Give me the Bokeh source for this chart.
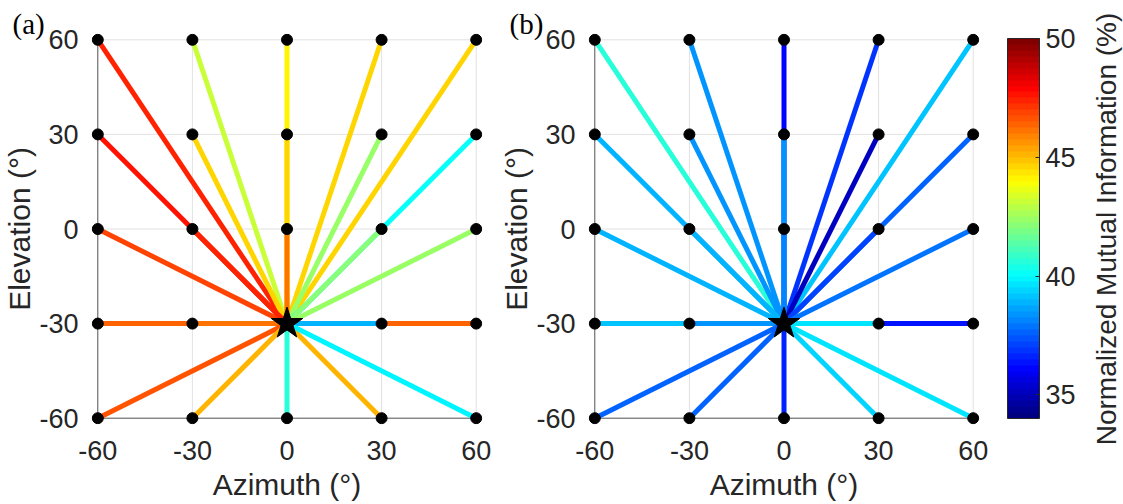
import numpy as np
from bokeh.plotting import figure
from bokeh.layouts import row
from bokeh.models import (Range1d, FixedTicker, ColumnDataSource, LinearColorMapper,
                          ColorBar, Title, CustomJSTickFormatter)
from bokeh.transform import linear_cmap
from bokeh.embed import file_html
from bokeh.resources import INLINE

# ---------------- data ----------------
AZ_TICKS = [-60, -30, 0, 30, 60]
EL_TICKS = [-60, -30, 0, 30, 60]
CB_TICKS = [35, 40, 45, 50]
CENTER_AZ = 0
CENTER_EL = -30
NMI_LOW = 34
NMI_HIGH = 50

# target points (draw order: far first, near last)
TARGET_AZ = [-60, -30, 0, 30, 60,
             -60, -30, 0, 30, 60,
             -60, -30, 0, 30, 60,
             -60, 60, -30, 30,
             -60, -30, 0, 30, 60]
TARGET_EL = [60, 60, 60, 60, 60,
             30, 30, 30, 30, 30,
             0, 0, 0, 0, 0,
             -30, -30, -30, -30,
             -60, -60, -60, -60, -60]

# Normalized mutual information (%) for each target point
NMI_A = [47.4, 43.0, 44.0, 44.6, 44.6,
         47.5, 44.6, 44.6, 42.3, 40.0,
         46.8, 47.4, 46.0, 42.0, 42.3,
         46.4, 46.4, 46.0, 38.9,
         46.6, 45.1, 40.5, 45.2, 39.9]
NMI_B = [40.6, 38.35, 36.2, 36.9, 39.0,
         38.75, 38.35, 38.35, 35.1, 37.6,
         38.75, 38.8, 38.2, 37.1, 37.9,
         39.0, 36.3, 38.35, 39.6,
         37.6, 37.7, 36.6, 39.45, 39.5]

# ---------------- colormap (jet, 64 levels) ----------------
def jet(n):
    cols = []
    for i in range(n):
        t = i / (n - 1)
        r = min(max(1.5 - abs(4 * t - 3), 0), 1)
        g = min(max(1.5 - abs(4 * t - 2), 0), 1)
        b = min(max(1.5 - abs(4 * t - 1), 0), 1)
        cols.append("#%02x%02x%02x" % (int(round(r * 255)), int(round(g * 255)), int(round(b * 255))))
    return cols

JET = jet(64)
mapper = LinearColorMapper(palette=JET, low=NMI_LOW, high=NMI_HIGH)

TXT = "#262626"
SANS = "Liberation Sans"
PAD = 2
FRAME = 391


def panel(values, letter, border_left, border_right):
    p = figure(frame_width=FRAME, frame_height=FRAME,
               x_range=Range1d(AZ_TICKS[0] - PAD, AZ_TICKS[-1] + PAD),
               y_range=Range1d(EL_TICKS[0] - PAD, EL_TICKS[-1] + PAD),
               output_backend="svg", toolbar_location=None,
               min_border_left=border_left, min_border_right=border_right,
               min_border_top=33, min_border_bottom=80)
    p.outline_line_color = None
    p.grid.visible = False
    p.background_fill_color = "white"

    # grid lines (from tick arrays)
    gx = AZ_TICKS[1:]
    p.segment(x0=gx, y0=[EL_TICKS[0]] * len(gx), x1=gx, y1=[EL_TICKS[-1]] * len(gx),
              line_color="#e2e2e2", line_width=1)
    gy = EL_TICKS[1:]
    p.segment(x0=[AZ_TICKS[0]] * len(gy), y0=gy, x1=[AZ_TICKS[-1]] * len(gy), y1=gy,
              line_color="#e2e2e2", line_width=1)
    # axis lines
    p.segment(x0=[AZ_TICKS[0], AZ_TICKS[0]], y0=[EL_TICKS[0], EL_TICKS[0]],
              x1=[AZ_TICKS[0], AZ_TICKS[-1]], y1=[EL_TICKS[-1], EL_TICKS[0]],
              line_color="#505050", line_width=1)

    n = len(TARGET_AZ)
    src = ColumnDataSource(dict(x0=[CENTER_AZ] * n, y0=[CENTER_EL] * n,
                                x1=TARGET_AZ, y1=TARGET_EL, v=values))
    p.segment("x0", "y0", "x1", "y1", source=src, line_width=5,
              line_color=linear_cmap("v", JET, NMI_LOW, NMI_HIGH))
    p.scatter("x1", "y1", source=src, size=11, color="black")
    p.scatter([CENTER_AZ], [CENTER_EL], marker="star", size=33, color="black")

    for ax, lab, ticks in ((p.xaxis, "Azimuth (°)", AZ_TICKS), (p.yaxis, "Elevation (°)", EL_TICKS)):
        ax.ticker = FixedTicker(ticks=ticks)
        ax.formatter = CustomJSTickFormatter(code="return String(Math.round(tick));")
        ax.axis_label = lab
        ax.axis_line_color = None
        ax.major_tick_line_color = None
        ax.minor_tick_line_color = None
        ax.major_tick_in = 0
        ax.major_tick_out = 0
        ax.major_label_text_font = SANS
        ax.major_label_text_font_size = "27px"
        ax.major_label_text_color = TXT
        ax.axis_label_text_font = SANS
        ax.axis_label_text_font_size = "30px"
        ax.axis_label_text_font_style = "normal"
        ax.axis_label_text_color = TXT
    p.xaxis.major_label_standoff = 16
    p.xaxis.axis_label_standoff = 5
    p.yaxis.major_label_standoff = 13
    p.yaxis.axis_label_standoff = 0
    p.yaxis.major_label_orientation = "horizontal"

    p.title = Title(text=letter, align="left", offset=-79, standoff=-12,
                    text_font="Liberation Serif", text_font_size="29px",
                    text_font_style="normal", text_color="black")
    return p


pa = panel(NMI_A, "(a)", 91, 15)
pb = panel(NMI_B, "(b)", 91, 105)

cb = ColorBar(color_mapper=mapper, ticker=FixedTicker(ticks=CB_TICKS),
              width=32, height=380, location=(419, 6), padding=0, margin=0,
              bar_line_color=TXT, bar_line_width=1,
              major_tick_in=4, major_tick_out=0, major_tick_line_color=TXT,
              minor_tick_line_color=None, label_standoff=6,
              major_label_text_font=SANS, major_label_text_font_size="27px",
              major_label_text_color=TXT,
              background_fill_alpha=0, border_line_color=None)
pb.add_layout(cb)

# colour-bar title, drawn as a side title of a narrow strip to the right
pc = figure(width=39, height=504, min_border_left=37, min_border_right=0,
            min_border_top=33, min_border_bottom=80,
            x_range=Range1d(0, 1), y_range=Range1d(0, 1),
            output_backend="svg", toolbar_location=None,
            x_axis_location=None, y_axis_location=None)
pc.outline_line_color = None
pc.grid.visible = False
pc.add_layout(Title(text="Normalized Mutual Information (%)", align="center",
                    vertical_align="bottom", standoff=0,
                    text_font=SANS, text_font_size="28px", text_font_style="normal",
                    text_color=TXT), "left")

layout = row(pa, pb, pc)
open("out.html", "w").write(file_html(layout, INLINE))
